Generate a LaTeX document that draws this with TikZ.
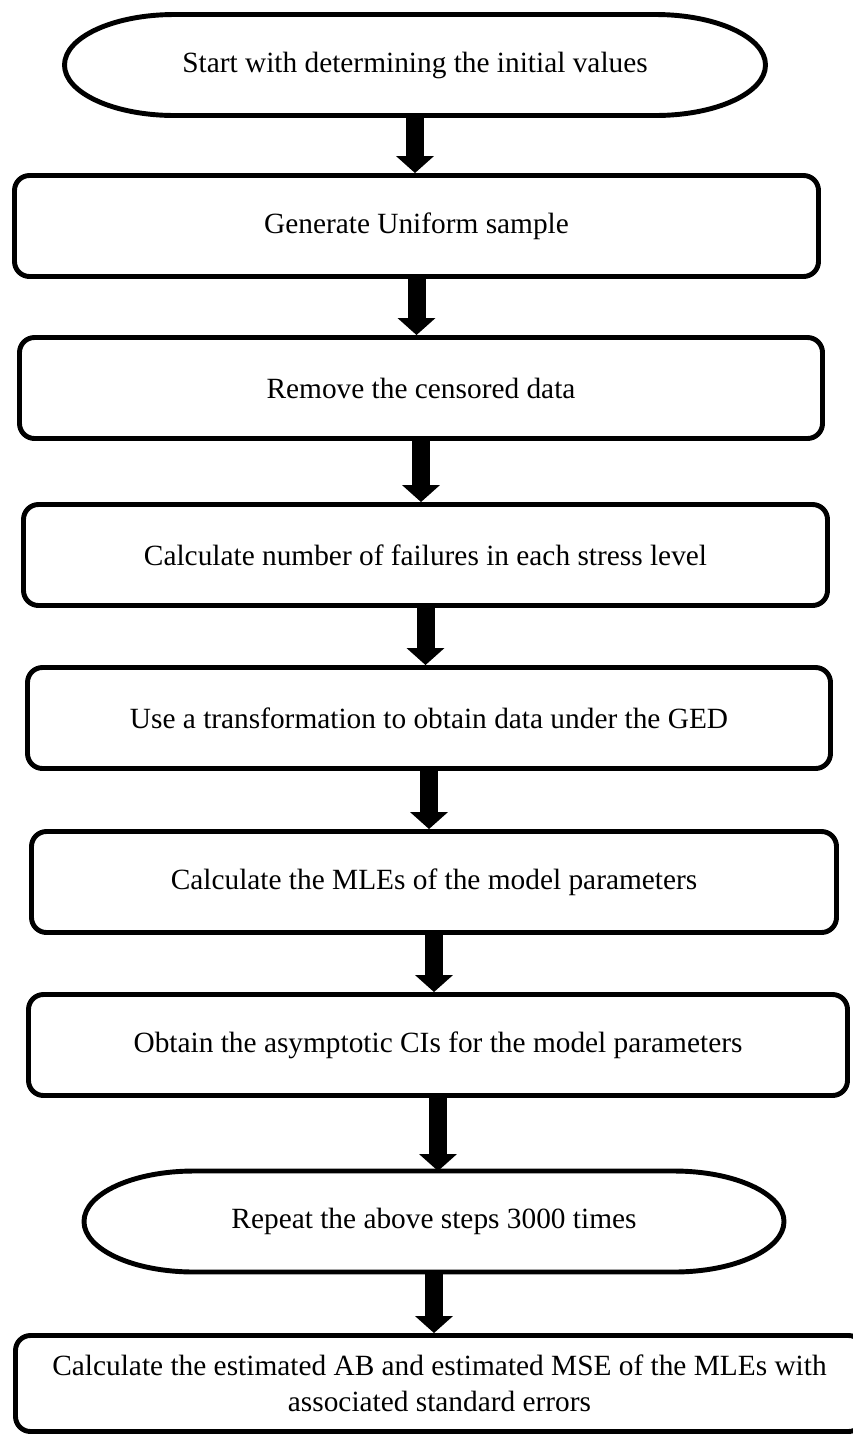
\documentclass[tikz,border=0pt]{standalone}
\usepackage{fontspec}
\setmainfont{Liberation Serif}
\usetikzlibrary{arrows.meta}

\tikzset{
    border/.style={line width=2.8pt, line join=round},
    stepbox/.style={border, draw, rounded corners=0.3cm, minimum height=2.02cm,
        inner sep=0pt, align=center, font=\fontsize{16.7}{20.5}\selectfont},
    terminal/.style={minimum height=2.02cm, inner sep=0pt, outer sep=0pt,
        font=\fontsize{16.7}{20.5}\selectfont},
    flowarrow/.style={line width=0.36cm, -{Triangle[width=0.74cm,length=0.34cm]}}
}

\begin{document}
\begin{tikzpicture}

    \useasboundingbox (0,0) rectangle (17.06,-28.74);

    % Nodos del diagrama
    \node[terminal, minimum width=14.02cm] (s1) at (8.30,-1.30) {Start with determining the initial values};
    \node[stepbox, minimum width=16.08cm] (b2) at (8.33,-4.52) {Generate Uniform sample};
    \node[stepbox, minimum width=16.06cm] (b3) at (8.42,-7.76) {Remove the censored data};
    \node[stepbox, minimum width=16.08cm] (b4) at (8.51,-11.10) {Calculate number of failures in each stress level};
    \node[stepbox, minimum width=16.06cm] (b5) at (8.58,-14.36) {Use a transformation to obtain data under the GED};
    \node[stepbox, minimum width=16.10cm] (b6) at (8.68,-17.64) {Calculate the MLEs of the model parameters};
    \node[stepbox, minimum width=16.38cm] (b7) at (8.76,-20.90) {Obtain the asymptotic CIs for the model parameters};
    \node[terminal, minimum width=14.00cm] (s8) at (8.68,-24.43) {Repeat the above steps 3000 times};
    \node[stepbox, minimum width=16.96cm, minimum height=1.92cm] (b9) at (8.79,-27.67)
        {Calculate the estimated AB and estimated MSE of the MLEs with\\associated standard errors};

    % Bordes de inicio y repeticion
    \foreach \n in {s1,s8} {
        \draw[border] ([xshift=2.2cm]\n.north west) -- ([xshift=-2.2cm]\n.north east)
            arc[start angle=90, end angle=-90, x radius=2.2cm, y radius=1.01cm]
            -- ([xshift=2.2cm]\n.south west)
            arc[start angle=270, end angle=90, x radius=2.2cm, y radius=1.01cm] -- cycle;
    }

    % Flechas
    \foreach \a/\b in {s1/b2, b2/b3, b3/b4, b4/b5, b5/b6, b6/b7, b7/s8, s8/b9} {
        \draw[flowarrow] (\a.south) -- (\a.south |- \b.north);
    }

\end{tikzpicture}
\end{document}
